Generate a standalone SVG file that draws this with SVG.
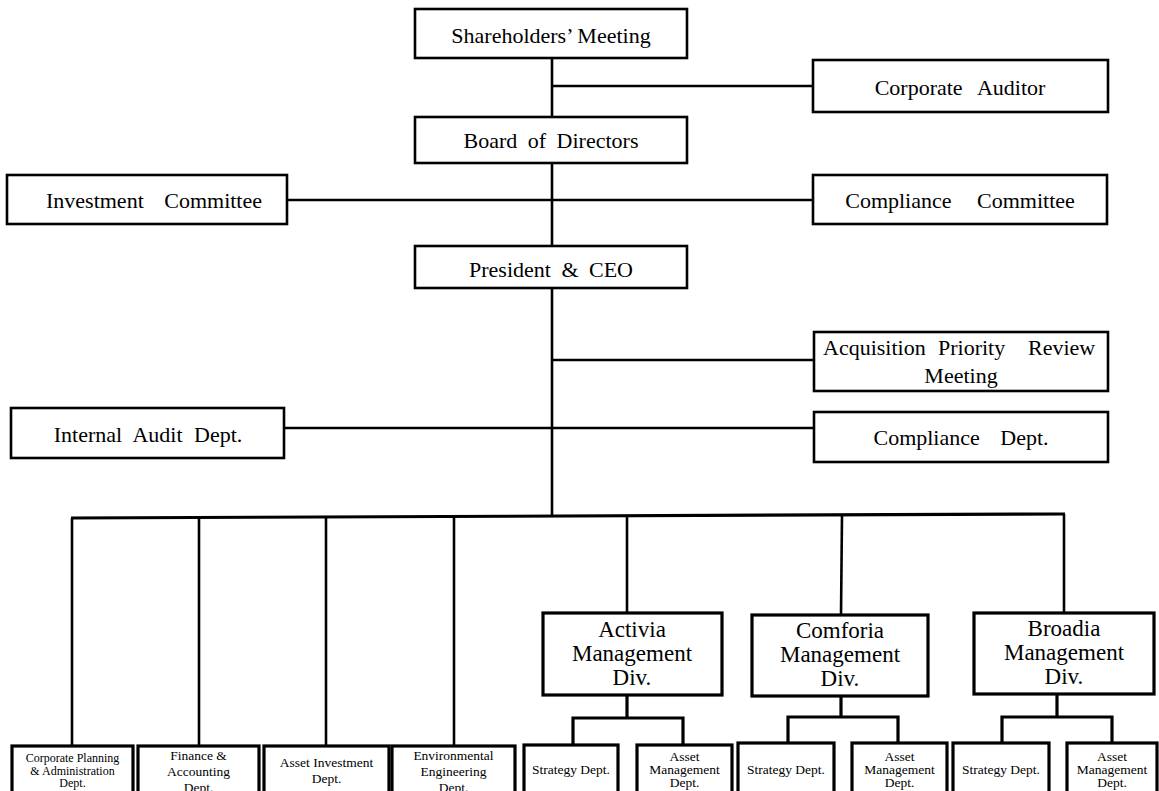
<svg xmlns="http://www.w3.org/2000/svg" width="1159" height="791" viewBox="0 0 1159 791">
<style>
  .box { fill: #fff; stroke: #000; stroke-width: 2.6; }
  .sbox { fill: #fff; stroke: #000; stroke-width: 3.2; }
  .ln { fill: none; stroke: #000; stroke-width: 2.6; stroke-linecap: butt; }
  .bus { fill: none; stroke: #000; stroke-width: 3.2; }
  text { font-family: "Liberation Serif", "Times New Roman", serif; fill: #000; text-anchor: middle; }
  .t22 { font-size: 22px; }
  .t23 { font-size: 23px; }
  .t13 { font-size: 13.5px; }
  .t12 { font-size: 12px; }
</style>
<rect width="1159" height="791" fill="#fff"/>

<g id="connectors">
  <line class="ln" x1="552" y1="58" x2="552" y2="516"/>
  <line class="ln" x1="552" y1="86" x2="813" y2="86"/>
  <line class="ln" x1="287" y1="200" x2="813" y2="200"/>
  <line class="ln" x1="552" y1="360" x2="814" y2="360"/>
  <line class="ln" x1="284" y1="428" x2="814" y2="428"/>
  <line class="bus" x1="71" y1="518" x2="1065" y2="514"/>
  <line class="ln" x1="72" y1="518" x2="72" y2="746"/>
  <line class="ln" x1="199" y1="517" x2="199" y2="746"/>
  <line class="ln" x1="326" y1="517" x2="326" y2="746"/>
  <line class="ln" x1="454" y1="516" x2="454" y2="746"/>
  <line class="ln" x1="627" y1="516" x2="627" y2="613"/>
  <line class="ln" x1="842" y1="515" x2="841" y2="615"/>
  <line class="ln" x1="1064" y1="514" x2="1064" y2="613"/>
  <path class="bus" d="M627 695 V718 M573 745 V718 H683 V745"/>
  <path class="bus" d="M841 696 V717 M788 743 V717 H898 V743"/>
  <path class="bus" d="M1057 694 V717 M1002 743 V717 H1112 V743"/>
</g>

<g id="shareholders">
  <rect class="box" x="415" y="9" width="272" height="49"/>
  <text class="t22" x="551" y="43">Shareholders’ Meeting</text>
</g>
<g id="corporate-auditor">
  <rect class="box" x="813" y="60" width="295" height="52"/>
  <text class="t22" x="960" y="95" word-spacing="10">Corporate Auditor</text>
</g>
<g id="board">
  <rect class="box" x="415" y="117" width="272" height="46"/>
  <text class="t22" x="551" y="148" word-spacing="5">Board of Directors</text>
</g>
<g id="investment-committee">
  <rect class="box" x="7" y="175" width="280" height="49"/>
  <text class="t22" x="154" y="208" word-spacing="15">Investment Committee</text>
</g>
<g id="compliance-committee">
  <rect class="box" x="813" y="175" width="294" height="49"/>
  <text class="t22" x="960" y="208" word-spacing="20">Compliance Committee</text>
</g>
<g id="president">
  <rect class="box" x="415" y="246" width="272" height="42"/>
  <text class="t22" x="551" y="277" word-spacing="5">President &amp; CEO</text>
</g>
<g id="acquisition">
  <rect class="box" x="814" y="332" width="294" height="59"/>
  <text class="t22" style="text-anchor:start" y="355"><tspan x="823">Acquisition</tspan><tspan x="938">Priority</tspan><tspan x="1028">Review</tspan></text>
  <text class="t22" x="961" y="383">Meeting</text>
</g>
<g id="internal-audit">
  <rect class="box" x="11" y="408" width="273" height="50"/>
  <text class="t22" x="148" y="442" word-spacing="6">Internal Audit Dept.</text>
</g>
<g id="compliance-dept">
  <rect class="box" x="814" y="412" width="294" height="50"/>
  <text class="t22" x="961" y="445" word-spacing="15">Compliance Dept.</text>
</g>

<g id="activia">
  <rect class="sbox" x="543" y="613" width="179" height="82"/>
  <text class="t23" x="632" y="637">Activia</text>
  <text class="t23" x="632" y="661">Management</text>
  <text class="t23" x="632" y="685">Div.</text>
</g>
<g id="comforia">
  <rect class="sbox" x="752" y="615" width="176" height="81"/>
  <text class="t23" x="840" y="638">Comforia</text>
  <text class="t23" x="840" y="662">Management</text>
  <text class="t23" x="840" y="686">Div.</text>
</g>
<g id="broadia">
  <rect class="sbox" x="974" y="613" width="180" height="81"/>
  <text class="t23" x="1064" y="636">Broadia</text>
  <text class="t23" x="1064" y="660">Management</text>
  <text class="t23" x="1064" y="684">Div.</text>
</g>

<g id="corp-planning">
  <rect class="sbox" x="12" y="746" width="121" height="60"/>
  <text class="t12" x="72.5" y="762">Corporate Planning</text>
  <text class="t12" x="72.5" y="775">&amp; Administration</text>
  <text class="t12" x="72.5" y="787">Dept.</text>
</g>
<g id="finance">
  <rect class="sbox" x="138" y="746" width="121" height="60"/>
  <text class="t13" x="198.5" y="760">Finance &amp;</text>
  <text class="t13" x="198.5" y="776">Accounting</text>
  <text class="t13" x="198.5" y="792">Dept.</text>
</g>
<g id="asset-investment">
  <rect class="sbox" x="264" y="746" width="125" height="60"/>
  <text class="t13" x="326.5" y="767">Asset Investment</text>
  <text class="t13" x="326.5" y="783">Dept.</text>
</g>
<g id="environmental">
  <rect class="sbox" x="392" y="746" width="123" height="60"/>
  <text class="t13" x="453.5" y="760">Environmental</text>
  <text class="t13" x="453.5" y="776">Engineering</text>
  <text class="t13" x="453.5" y="792">Dept.</text>
</g>
<g id="activia-strategy">
  <rect class="sbox" x="524" y="745" width="94" height="60"/>
  <text class="t13" x="571" y="774">Strategy Dept.</text>
</g>
<g id="activia-asset">
  <rect class="sbox" x="637" y="745" width="95" height="60"/>
  <text class="t13" x="684.5" y="761">Asset</text>
  <text class="t13" x="684.5" y="774">Management</text>
  <text class="t13" x="684.5" y="787">Dept.</text>
</g>
<g id="comforia-strategy">
  <rect class="sbox" x="738" y="743" width="96" height="60"/>
  <text class="t13" x="786" y="774">Strategy Dept.</text>
</g>
<g id="comforia-asset">
  <rect class="sbox" x="852" y="743" width="95" height="60"/>
  <text class="t13" x="899.5" y="761">Asset</text>
  <text class="t13" x="899.5" y="774">Management</text>
  <text class="t13" x="899.5" y="787">Dept.</text>
</g>
<g id="broadia-strategy">
  <rect class="sbox" x="953" y="743" width="96" height="60"/>
  <text class="t13" x="1001" y="774">Strategy Dept.</text>
</g>
<g id="broadia-asset">
  <rect class="sbox" x="1067" y="743" width="90" height="60"/>
  <text class="t13" x="1112" y="761">Asset</text>
  <text class="t13" x="1112" y="774">Management</text>
  <text class="t13" x="1112" y="787">Dept.</text>
</g>
</svg>
